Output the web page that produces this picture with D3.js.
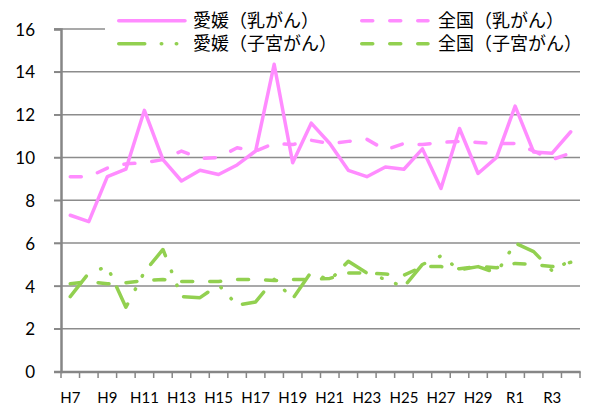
<!DOCTYPE html>
<html>
<head>
<meta charset="utf-8">
<script src="https://cdn.jsdelivr.net/npm/d3@7"></script>
<style>
  body { margin: 0; background: #fff; }
  svg text { font-family: Lato, "Noto Sans", sans-serif; fill: #000; }
  .legend text { font-family: "Noto Sans CJK JP", sans-serif; }
</style>
</head>
<body>
<div id="chart"></div>
<script>
const categories = [
  'H7', 'H8', 'H9', 'H10', 'H11', 'H12', 'H13', 'H14', 'H15', 'H16',
  'H17', 'H18', 'H19', 'H20', 'H21', 'H22', 'H23', 'H24', 'H25', 'H26',
  'H27', 'H28', 'H29', 'H30', 'R1', 'R2', 'R3', 'R4'
];
const tickLabels = ['H7', 'H9', 'H11', 'H13', 'H15', 'H17', 'H19', 'H21', 'H23', 'H25', 'H27', 'H29', 'R1', 'R3'];
const yTicks = [0, 2, 4, 6, 8, 10, 12, 14, 16];

// 愛媛（乳がん）
const ehimeBreast = [7.3, 7.0, 9.1, 9.45, 12.2, 9.9, 8.9, 9.4, 9.2, 9.65,
  10.3, 14.35, 9.75, 11.6, 10.65, 9.4, 9.1, 9.55, 9.45, 10.4,
  8.55, 11.35, 9.25, 10.0, 12.4, 10.25, 10.2, 11.2];
// 全国（乳がん）
const nationalBreast = [9.1, 9.1, 9.5, 9.7, 9.75, 9.9, 10.3, 9.95, 10.0, 10.45,
  10.3, 10.65, 10.6, 10.8, 10.65, 10.75, 10.85, 10.35, 10.65, 10.6,
  10.7, 10.75, 10.7, 10.65, 10.65, 10.3, 9.9, 10.2];
// 愛媛（子宮がん）
const ehimeCervix = [3.5, 4.6, 4.9, 3.0, 4.65, 5.7, 3.5, 3.45, 4.05, 3.1,
  3.25, 4.3, 3.4, 4.65, 4.25, 5.15, 4.6, 4.3, 3.95, 5.0,
  5.4, 4.75, 4.9, 4.6, 6.0, 5.6, 4.7, 5.2];
// 全国（子宮がん）
const nationalCervix = [4.1, 4.2, 4.1, 4.15, 4.25, 4.3, 4.2, 4.2, 4.2, 4.3,
  4.3, 4.25, 4.3, 4.3, 4.35, 4.6, 4.6, 4.55, 4.5, 4.9,
  4.9, 4.8, 4.9, 4.85, 5.05, 5.0, 4.9, 5.1];

const series = [
  { name: '愛媛（乳がん）', values: ehimeBreast, color: '#ff8cff', dash: null },
  { name: '全国（乳がん）', values: nationalBreast, color: '#ff8cff', dash: '11,17' },
  { name: '愛媛（子宮がん）', values: ehimeCervix, color: '#92d050', dash: '26,16.5,0.5,14.5,0.5,14' },
  { name: '全国（子宮がん）', values: nationalCervix, color: '#92d050', dash: '11,17' }
];

const width = 590;
const height = 406;
const lineW = 3.5;

const x = d3.scaleBand().domain(categories).range([61, 580]).padding(0);
const y = d3.scaleLinear().domain([0, 16]).range([371.5, 29]);

const svg = d3.select('#chart')
  .append('svg')
  .attr('width', width)
  .attr('height', height);

// gridlines
svg.append('g')
  .selectAll('line')
  .data(yTicks.filter(d => d > 0))
  .enter()
  .append('line')
  .attr('x1', 54)
  .attr('x2', 580)
  .attr('y1', d => y(d))
  .attr('y2', d => y(d))
  .attr('stroke', '#8c8c8c')
  .attr('stroke-width', 1.5);

// y axis
const yAxis = svg.append('g')
  .attr('transform', 'translate(61,0)')
  .call(d3.axisLeft(y).tickValues(yTicks).tickSize(7).tickPadding(19));
yAxis.select('.domain').attr('stroke', '#868686').attr('stroke-width', 2.5);
yAxis.selectAll('.tick line').attr('stroke', '#868686').attr('stroke-width', 1.5);
yAxis.selectAll('.tick text').style('font-size', '17px').attr('dy', '0.36em');

// x axis
const xAxis = svg.append('g')
  .attr('transform', `translate(0,${y(0)})`)
  .call(d3.axisBottom(x).tickSizeOuter(0).tickSize(0).tickFormat(d => (tickLabels.includes(d) ? d : '')));
xAxis.select('.domain').attr('stroke', '#868686').attr('stroke-width', 2.5);
xAxis.selectAll('.tick text').style('font-size', '15px').attr('y', 21);

// x tick marks between categories
svg.append('g')
  .selectAll('line')
  .data(categories.concat(['end']))
  .enter()
  .append('line')
  .attr('x1', (d, i) => (i < categories.length ? x(d) : x.range()[1]))
  .attr('x2', (d, i) => (i < categories.length ? x(d) : x.range()[1]))
  .attr('y1', y(0))
  .attr('y2', y(0) + 6.5)
  .attr('stroke', '#868686')
  .attr('stroke-width', 1.5);

const line = d3.line()
  .x((d, i) => x(categories[i]) + x.bandwidth() / 2)
  .y(d => y(d));

// draw order: cervix first, then breast
[series[3], series[2], series[1], series[0]].forEach(s => {
  svg.append('path')
    .datum(s.values)
    .attr('d', line)
    .attr('fill', 'none')
    .attr('stroke', s.color)
    .attr('stroke-width', lineW)
    .attr('stroke-linejoin', 'round')
    .attr('stroke-linecap', 'round')
    .attr('stroke-dasharray', s.dash);
});

// legend
const legend = svg.append('g').attr('class', 'legend');
legend.append('rect')
  .attr('x', 105)
  .attr('y', 5)
  .attr('width', 483)
  .attr('height', 51)
  .attr('fill', '#fff');

const legendPos = [
  { lx: 117, tx: 193, ly: 20.7 },
  { lx: 360, tx: 438, ly: 20.7 },
  { lx: 117, tx: 193, ly: 43.7 },
  { lx: 360, tx: 438, ly: 43.7 }
];

series.forEach((s, i) => {
  const p = legendPos[i];
  legend.append('line')
    .attr('x1', p.lx + 1.75)
    .attr('x2', p.lx + 68)
    .attr('y1', p.ly)
    .attr('y2', p.ly)
    .attr('stroke', s.color)
    .attr('stroke-width', lineW)
    .attr('stroke-linecap', 'round')
    .attr('stroke-dasharray', s.dash);
  legend.append('text')
    .attr('x', p.tx)
    .attr('y', p.ly)
    .attr('dy', '0.36em')
    .style('font-size', '18px')
    .text(s.name);
});
</script>
</body>
</html>
